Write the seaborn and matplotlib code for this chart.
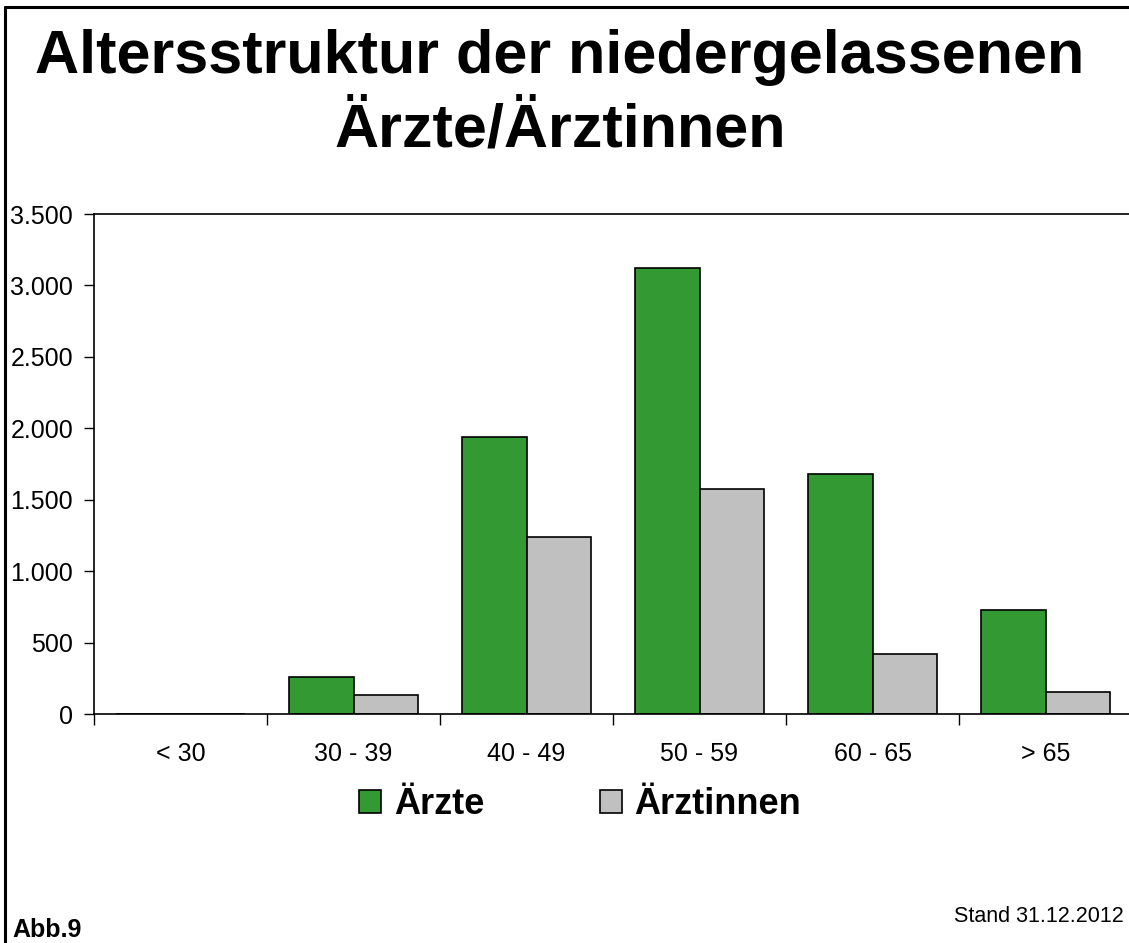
import matplotlib
matplotlib.use("Agg")
import matplotlib.pyplot as plt
import seaborn as sns
import pandas as pd
from matplotlib.ticker import FuncFormatter, FixedLocator
from matplotlib.lines import Line2D

# data
altersgruppen = ["< 30", "30 - 39", "40 - 49", "50 - 59", "60 - 65", "> 65"]
aerzte = [0, 260, 1940, 3120, 1680, 725]
aerztinnen = [0, 130, 1240, 1575, 420, 155]
serien = ["Ärzte", "Ärztinnen"]
farben = ["#339933", "#C0C0C0"]

df = pd.DataFrame({
    "Alter": altersgruppen * 2,
    "Anzahl": aerzte + aerztinnen,
    "Geschlecht": [serien[0]] * len(aerzte) + [serien[1]] * len(aerztinnen),
})

sns.set_style("white")
plt.rcParams["font.family"] = ["Liberation Sans", "DejaVu Sans"]
plt.rcParams["text.color"] = "black"
plt.rcParams["xtick.color"] = "black"
plt.rcParams["ytick.color"] = "black"

fig = plt.figure(figsize=(11.29, 9.43), dpi=100)
ax = fig.add_axes([94 / 1129, 229 / 943, (1132 - 94) / 1129, 500 / 943])

sns.barplot(data=df, x="Alter", y="Anzahl", hue="Geschlecht",
            palette=farben, width=0.75, edgecolor="black", linewidth=1.2,
            saturation=1, ax=ax)

ax.set_xlim(-0.5, 5.5)
ax.set_ylim(0, 3500)
ax.set_yticks(range(0, 3501, 500))
ax.yaxis.set_major_formatter(FuncFormatter(lambda v, p: f"{int(v):,}".replace(",", ".")))
ax.set_xlabel("")
ax.set_ylabel("")

# ticks: y outward, x marks at category boundaries
ax.tick_params(axis="y", which="major", direction="out", length=7, width=1,
               labelsize=18, pad=8, left=True)
ax.tick_params(axis="x", which="major", length=0, labelsize=18, pad=20)
ax.xaxis.set_minor_locator(FixedLocator([i - 0.5 for i in range(7)]))
ax.tick_params(axis="x", which="minor", direction="out", length=8, width=1,
               bottom=True)

for side in ["left", "bottom", "top"]:
    ax.spines[side].set_color("black")
    ax.spines[side].set_linewidth(1.2)
ax.spines["right"].set_visible(False)

# legend
handles, labels = ax.get_legend_handles_labels()
ax.get_legend().remove()
fig.legend(handles, labels, ncol=2, frameon=False, loc="center",
           bbox_to_anchor=(580 / 1129, 1 - 805 / 943),
           prop={"size": 26, "weight": "bold"},
           handlelength=0.62, handleheight=0.62, handletextpad=0.35,
           columnspacing=3.2)

# title
fig.text(560 / 1129, 1 - 57 / 943, "Altersstruktur der niedergelassenen",
         ha="center", va="center", fontsize=44, fontweight="bold")
fig.text(560 / 1129, 1 - 131 / 943, "Ärzte/Ärztinnen",
         ha="center", va="center", fontsize=44, fontweight="bold")

fig.text(12 / 1129, 1 - 930 / 943, "Abb.9", ha="left", va="center",
         fontsize=18, fontweight="bold")
fig.text(1124 / 1129, 1 - 917 / 943, "Stand 31.12.2012", ha="right",
         va="center", fontsize=15.5)

# frame lines at top and left of the page
fig.add_artist(Line2D([5 / 1129, 1], [1 - 7 / 943, 1 - 7 / 943],
                      transform=fig.transFigure, color="black", linewidth=2.2))
fig.add_artist(Line2D([5 / 1129, 5 / 1129], [0, 1 - 7 / 943],
                      transform=fig.transFigure, color="black", linewidth=2.2))

fig.savefig("out.png", dpi=100)
